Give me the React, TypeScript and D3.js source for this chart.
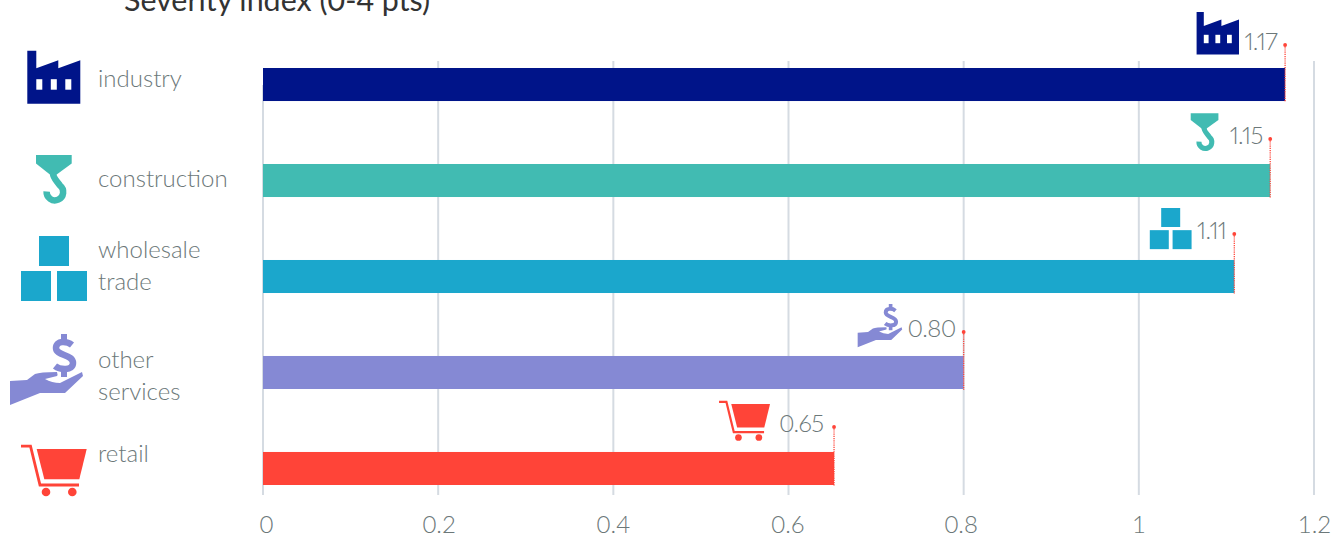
import { useEffect, useRef } from 'react';
import * as d3 from 'd3';

const categories = ['industry', 'construction', 'wholesale trade', 'other services', 'retail'];
const severity = [1.167, 1.15, 1.109, 0.8, 0.652];
const valueLabels = ['1.17', '1.15', '1.11', '0.80', '0.65'];
const xTicks = [0, 0.2, 0.4, 0.6, 0.8, 1, 1.2];
const colors = ['#001489', '#41bbb2', '#1ba7cc', '#8589d4', '#ff4438'];

const width = 1331;
const height = 533;
const font = 'Lato, sans-serif';
const textGrey = '#6c7879';
const gridGrey = '#d5dbe2';

// icon glyphs, drawn in their own box; the chart only scales and moves them
type IconDraw = (g: d3.Selection<SVGGElement, unknown, null, undefined>, color: string) => void;

const factory: IconDraw = (g, color) => {
  g.append('path')
    .attr('fill', color)
    .attr('d', 'M0,0V53H53V9.5L31,17.5V9.5L9,17.5V0Z');
  [9, 23.5, 38].forEach((x) => {
    g.append('rect').attr('x', x).attr('y', 28.5).attr('width', 6).attr('height', 10.5).attr('fill', '#fff');
  });
};

const hook: IconDraw = (g, color) => {
  g.append('path').attr('fill', color).attr('d', 'M0,0H35.7V8.5L20,20H14.5L0,8.5Z');
  g.append('path')
    .attr('fill', 'none')
    .attr('stroke', color)
    .attr('stroke-width', 6.5)
    .attr('d', 'M17,18C17,23 20,25 24,30.5A8.3,8.3 0 1 1 10.6,36.5');
};

const boxes: IconDraw = (g, color) => {
  [[18, 0], [0, 35], [36, 35]].forEach(([x, y]) => {
    g.append('rect').attr('x', x).attr('y', y).attr('width', 30).attr('height', 30).attr('fill', color);
  });
};

const hand: IconDraw = (g, color) => {
  g.append('path')
    .attr('fill', color)
    .attr('d', 'M0,47L17,46L25,40Q30,38 47,38Q48,41 47,42L35,45Q42,49 50,49L72,38L73,42L55,59L30,59L0,71Z');
  g.append('path')
    .attr('fill', 'none')
    .attr('stroke', color)
    .attr('stroke-width', 6.5)
    .attr('d', 'M62,11C57,7 46,6 46,14C46,22 63,20 63,29C63,37 50,36 45,32');
  g.append('rect').attr('x', 51).attr('y', 0).attr('width', 6).attr('height', 7).attr('fill', color);
  g.append('rect').attr('x', 51).attr('y', 36).attr('width', 6).attr('height', 7).attr('fill', color);
};

const cart: IconDraw = (g, color) => {
  g.append('path').attr('fill', color).attr('d', 'M15.7,4H65.7L58.3,34.3H23.3Z');
  g.append('path')
    .attr('fill', 'none')
    .attr('stroke', color)
    .attr('stroke-width', 2.8)
    .attr('d', 'M0,1.2H9.5L19,40H58');
  g.append('circle').attr('cx', 25).attr('cy', 47).attr('r', 4.3).attr('fill', color);
  g.append('circle').attr('cx', 51.3).attr('cy', 47).attr('r', 4.3).attr('fill', color);
};

const icons = [factory, hook, boxes, hand, cart];

// left column: icon box origin and label lines, per category
const bigIconPos = [[27.3, 50.7], [36, 155], [21, 236], [10, 334], [21, 445]];
const labelBaselines = [[87], [187], [258, 290], [368, 400], [462]];
// small icon next to the value: offset from bar end, top, scale
const smallIconPos = [
  { dx: -88.5, y: 12, k: 0.8 },
  { dx: -79.5, y: 113.3, k: 0.776 },
  { dx: -84.5, y: 208, k: 0.633 },
  { dx: -106, y: 304, k: 0.61 },
  { dx: -115, y: 401, k: 0.776 },
];
const dotY = [45, 139, 234, 332, 427];
const labelGap = [8, 7.5, 8, 8, 10.5];
const tickNudge = [3.5, 1, 0, -0.5, -2.5, 0, 0.5];

export default function App() {
  const svgRef = useRef<SVGSVGElement>(null);

  useEffect(() => {
    if (!svgRef.current) return;
    const svg = d3.select(svgRef.current);
    svg.selectAll('*').remove();

    const x = d3.scaleLinear().domain([0, 1.2]).range([263, 1314]);
    const y = d3.scaleBand().domain(categories).range([68, 485]).paddingInner(0.656);

    // title, cut off by the top of the picture as in the original
    svg.append('text')
      .attr('x', 124)
      .attr('y', 11)
      .attr('font-family', font)
      .attr('font-size', 30.4)
      .attr('fill', '#333')
      .text('Severity index (0-4 pts)');

    // axis with full height ticks as grid
    const axis = svg.append('g')
      .attr('transform', 'translate(0,495)')
      .call(d3.axisBottom(x).offset(0).tickValues(xTicks).tickSize(-434).tickPadding(21).tickFormat((d) => String(d)));
    axis.select('.domain').remove();
    axis.selectAll('.tick line').attr('stroke', gridGrey).attr('stroke-width', 2);
    // the zero line starts lower than the others
    axis.select('.tick line').attr('y2', -410);
    axis.selectAll('.tick text')
      .attr('dx', (_, i) => tickNudge[i])
      .attr('font-family', font)
      .attr('font-weight', 300)
      .attr('font-size', 24)
      .attr('fill', textGrey);

    // bars
    svg.append('g')
      .selectAll('rect')
      .data(categories)
      .join('rect')
      .attr('x', x(0))
      .attr('y', (d) => y(d)!)
      .attr('width', (_, i) => x(severity[i]) - x(0))
      .attr('height', y.bandwidth())
      .attr('fill', (_, i) => colors[i]);

    categories.forEach((cat, i) => {
      // left column
      const big = svg.append('g').attr('transform', `translate(${bigIconPos[i][0]},${bigIconPos[i][1]})`);
      icons[i](big, colors[i]);

      const words = labelBaselines[i].length > 1 ? cat.split(' ') : [cat];
      words.forEach((w, j) => {
        svg.append('text')
          .attr('x', 98)
          .attr('y', labelBaselines[i][j])
          .attr('font-family', font)
          .attr('font-weight', 300)
          .attr('font-size', 24)
          .attr('fill', textGrey)
          .text(w);
      });

      // value marker and label at the bar end
      const end = x(severity[i]);
      svg.append('line')
        .attr('x1', end)
        .attr('x2', end)
        .attr('y1', dotY[i])
        .attr('y2', y(cat)! + y.bandwidth() + 1)
        .attr('stroke', colors[4])
        .attr('stroke-width', 1.3)
        .attr('stroke-dasharray', '1.2 1');
      svg.append('circle').attr('cx', end).attr('cy', dotY[i]).attr('r', 1.9).attr('fill', colors[4]);

      svg.append('text')
        .attr('x', end - labelGap[i])
        .attr('y', dotY[i] + 5)
        .attr('text-anchor', 'end')
        .attr('font-family', font)
        .attr('font-weight', 300)
        .attr('font-size', 24)
        .attr('letter-spacing', -0.6)
        .attr('fill', textGrey)
        .style('font-variant-numeric', 'proportional-nums')
        .text(valueLabels[i]);

      const s = smallIconPos[i];
      const small = svg.append('g').attr('transform', `translate(${end + s.dx},${s.y}) scale(${s.k})`);
      icons[i](small, colors[i]);
    });
  }, []);

  return (
    <svg
      ref={svgRef}
      width={width}
      height={height}
      style={{ position: 'absolute', left: 0, top: 0, display: 'block' }}
    />
  );
}
